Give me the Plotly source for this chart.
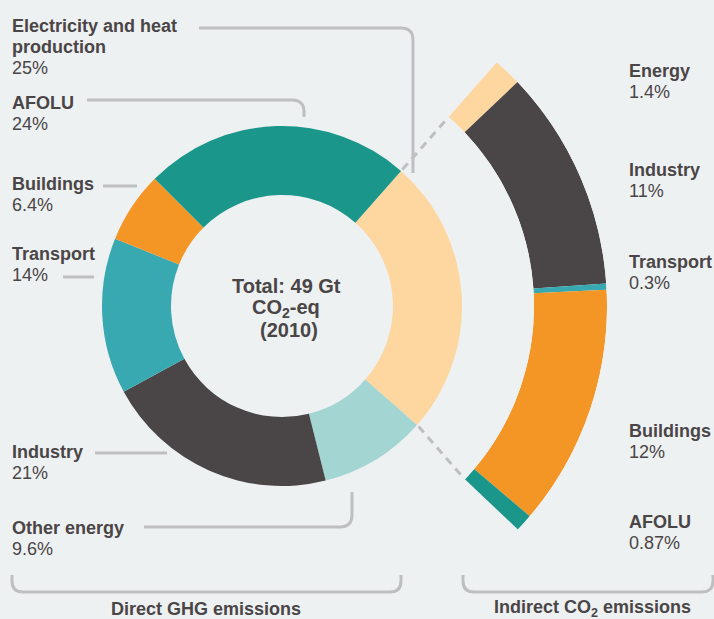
import math
import plotly.graph_objects as go

W, H = 714, 619

# direct emissions (inner ring), clockwise starting at the top right
direct_labels = ["Electricity and heat", "Other energy", "Industry",
                 "Transport", "Buildings", "AFOLU"]
direct_values = [25, 9.6, 21, 14, 6.4, 24]
direct_text = ["25%", "9.6%", "21%", "14%", "6.4%", "24%"]
direct_colors = ["#FED69F", "#A3D5D2", "#4A4546", "#39A9B1", "#F39626", "#1A968B"]

# indirect CO2 emissions (outer arc), clockwise
indirect_labels = ["Energy", "Industry", "Transport", "Buildings", "AFOLU"]
indirect_values = [1.4, 11, 0.3, 12, 0.87]
indirect_text = ["1.4%", "11%", "0.3%", "12%", "0.87%"]
indirect_colors = ["#FED69F", "#4A4546", "#39A9B1", "#F39626", "#1A968B"]

# geometry in pixels
CX, CY = 282, 306
R_IN, R_OUT = 111, 180
ARC_IN, ARC_OUT = 252, 325
START = 41.4
SECTOR = [-45, 49]

BG = "#EEF1F2"
TXT = "#4A4546"
GREY = "#BEBFC1"
FONT = "Liberation Sans, Arial, sans-serif"


def px(x):
    return x / W


def py(y):
    return 1 - y / H


fig = go.Figure()

fig.add_trace(go.Pie(
    values=direct_values, labels=direct_labels, sort=False,
    direction="clockwise", rotation=START, hole=R_IN / R_OUT,
    marker=dict(colors=direct_colors, line=dict(width=0)),
    textinfo="none", hoverinfo="label+value", showlegend=False,
    domain=dict(x=[px(CX - R_OUT), px(CX + R_OUT)],
                y=[py(CY + R_OUT), py(CY - R_OUT)]),
))

# outer arc on a polar sector sharing the donut centre
thetas, widths = [], []
a = START
for v in indirect_values:
    w = v * 3.6
    thetas.append(a + w / 2)
    widths.append(w)
    a += w

fig.add_trace(go.Barpolar(
    r=[1] * len(indirect_values), theta=thetas, width=widths, base=0,
    marker=dict(color=indirect_colors, line=dict(width=0)),
    text=indirect_labels, hoverinfo="text", showlegend=False,
))

s0, s1 = math.radians(SECTOR[0]), math.radians(SECTOR[1])
top = CY - math.sin(s1) * ARC_OUT
bot = CY - math.sin(s0) * ARC_OUT

fig.update_layout(
    polar=dict(
        domain=dict(x=[px(CX), px(CX + ARC_OUT)], y=[py(bot), py(top)]),
        sector=SECTOR, hole=ARC_IN / ARC_OUT, bgcolor="rgba(0,0,0,0)",
        radialaxis=dict(range=[0, 1], visible=False),
        angularaxis=dict(rotation=90, direction="clockwise", visible=False),
    ),
)

annotations = []


def line(x, base, text, size=18, anchor="left"):
    # place one line of text by its baseline
    annotations.append(dict(
        x=px(x), y=py(base - 0.35 * size), xref="paper", yref="paper",
        xanchor=anchor, yanchor="middle", text=text, showarrow=False,
        font=dict(size=size, color=TXT, family=FONT),
    ))


def label(x, base, name_lines, value):
    for i, n in enumerate(name_lines):
        line(x, base + 21 * i, f"<b>{n}</b>")
    line(x, base + 21 * len(name_lines), value)


# left labels (first baseline)
label(10, 32, ["Electricity and heat", "production"], direct_text[0])
label(10, 109, [direct_labels[5]], direct_text[5])
label(10, 190, [direct_labels[4]], direct_text[4])
label(10, 260, [direct_labels[3]], direct_text[3])
label(10, 458, [direct_labels[2]], direct_text[2])
label(10, 534, [direct_labels[1]], direct_text[1])

# right labels
for name, val, base in zip(indirect_labels, indirect_text, [77, 176, 268, 437, 528]):
    label(627, base, [name], val)

line(286, 293, "<b>Total: 49 Gt</b>", size=20, anchor="center")
line(286, 315, "<b>CO<sub>2</sub>-eq</b>", size=20, anchor="center")
line(289, 337, "<b>(2010)</b>", size=20, anchor="center")

line(206, 615, "<b>Direct GHG emissions</b>", anchor="center")
line(592, 615, "<b>Indirect CO<sub>2</sub> emissions</b>", anchor="center")


def path(*pts):
    out = []
    for p in pts:
        if isinstance(p, str):
            out.append(p)
        else:
            out.append(f"{px(p[0]):.5f},{py(p[1]):.5f}")
    return " ".join(out)


shapes = []


def leader(d, dash=None):
    shapes.append(dict(type="path", path=d, xref="paper", yref="paper",
                       line=dict(color=GREY, width=3, dash=dash)))


leader(path("M", (199, 28), "L", (401, 28), "Q", (413, 28), (413, 40), "L", (413, 173)))
leader(path("M", (87, 100), "L", (292, 100), "Q", (304, 100), (304, 112), "L", (304, 117)))
leader(path("M", (103, 186), "L", (137, 186)))
leader(path("M", (63, 277), "L", (94, 277)))
leader(path("M", (95, 453), "L", (167, 453)))
leader(path("M", (144, 527), "L", (340, 527), "Q", (352, 527), (352, 515), "L", (352, 492)))

# brackets
leader(path("M", (12, 575), "L", (12, 581), "Q", (12, 592), (23, 592), "L", (390, 592),
            "Q", (401, 592), (401, 581), "L", (401, 575)))
leader(path("M", (463, 575), "L", (463, 581), "Q", (463, 592), (474, 592), "L", (702, 592),
            "Q", (713, 592), (713, 581), "L", (713, 575)))


def polar_pt(r, ang):
    t = math.radians(ang)
    return (CX + r * math.sin(t), CY - r * math.cos(t))


end_angle = START + sum(indirect_values) * 3.6
leader(path("M", polar_pt(R_OUT + 2, START), "L", polar_pt(ARC_IN - 4, START)), dash="8px,6px")
leader(path("M", polar_pt(R_OUT + 2, START + direct_values[0] * 3.6), "L",
            polar_pt(ARC_IN - 2, end_angle)), dash="8px,6px")

fig.update_layout(
    width=W, height=H, margin=dict(l=0, r=0, t=0, b=0),
    paper_bgcolor=BG, plot_bgcolor=BG,
    annotations=annotations, shapes=shapes,
    font=dict(family=FONT, color=TXT),
)

fig.write_html("out.html", config={"displayModeBar": False}, post_script=(
    "document.body.style.margin='0';"
    f"document.body.style.background='{BG}';"
))
